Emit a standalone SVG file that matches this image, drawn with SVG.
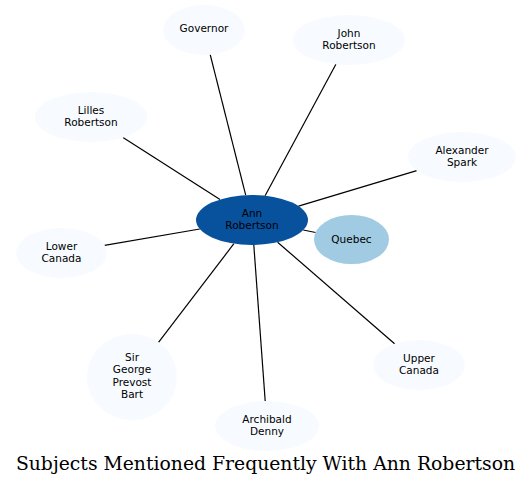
<svg xmlns="http://www.w3.org/2000/svg" width="532" height="485" viewBox="0 0 532 485">
<style>
.n ellipse{fill:#f7fbff;stroke:none}
.n text{font-family:"DejaVu Sans",sans-serif;font-size:10.5px;text-anchor:middle;fill:#000}
.e line{stroke:#000;stroke-width:1.2}
.title{font-family:"DejaVu Serif",serif;font-size:18.8px;text-anchor:middle;fill:#000}
</style>
<rect width="532" height="485" fill="#fff"/>
<g class="e" id="edges">
<line x1="245.7" y1="195.2" x2="210.2" y2="54.7"/>
<line x1="265.1" y1="195.7" x2="335.9" y2="64.3"/>
<line x1="220" y1="199.5" x2="123" y2="137.5"/>
<line x1="298.5" y1="206.1" x2="416.7" y2="170.6"/>
<line x1="199.8" y1="229" x2="104.5" y2="245.3"/>
<line x1="303.3" y1="230" x2="315.6" y2="232.5"/>
<line x1="233.9" y1="243.7" x2="158.5" y2="342.3"/>
<line x1="253.8" y1="245" x2="265.2" y2="401"/>
<line x1="277.6" y1="242.2" x2="394.6" y2="343.8"/>
</g>
<g class="n" id="node-ann">
<ellipse cx="252" cy="220" rx="56" ry="25" style="fill:#08519c"/>
<text x="252" y="216.8">Ann</text><text x="252" y="229.3">Robertson</text>
</g>
<g class="n" id="node-quebec">
<ellipse cx="351.5" cy="239.5" rx="37.5" ry="24.5" style="fill:#a0cbe2"/>
<text x="351.5" y="242.7">Quebec</text>
</g>
<g class="n" id="node-governor">
<ellipse cx="204" cy="30" rx="41" ry="25"/>
<text x="204" y="32">Governor</text>
</g>
<g class="n" id="node-john">
<ellipse cx="349" cy="40" rx="56" ry="25"/>
<text x="349" y="36.8">John</text><text x="349" y="49.3">Robertson</text>
</g>
<g class="n" id="node-lilles">
<ellipse cx="91" cy="117" rx="56" ry="25"/>
<text x="91" y="113.8">Lilles</text><text x="91" y="126.3">Robertson</text>
</g>
<g class="n" id="node-alexander">
<ellipse cx="462" cy="157" rx="54" ry="25"/>
<text x="462" y="153.8">Alexander</text><text x="462" y="166.3">Spark</text>
</g>
<g class="n" id="node-lower">
<ellipse cx="61.5" cy="253" rx="45.5" ry="25"/>
<text x="61.5" y="249.8">Lower</text><text x="61.5" y="262.3">Canada</text>
</g>
<g class="n" id="node-sirgeorge">
<ellipse cx="132" cy="377" rx="45" ry="43"/>
<text x="132" y="360.6">Sir</text><text x="132" y="373.1">George</text><text x="132" y="385.6">Prevost</text><text x="132" y="398.1">Bart</text>
</g>
<g class="n" id="node-archibald">
<ellipse cx="267" cy="426" rx="52" ry="25"/>
<text x="267" y="422.8">Archibald</text><text x="267" y="435.3">Denny</text>
</g>
<g class="n" id="node-upper">
<ellipse cx="419" cy="365" rx="46" ry="25"/>
<text x="419" y="361.8">Upper</text><text x="419" y="374.3">Canada</text>
</g>
<text class="title" x="265.5" y="469.5">Subjects Mentioned Frequently With Ann Robertson</text>
</svg>
